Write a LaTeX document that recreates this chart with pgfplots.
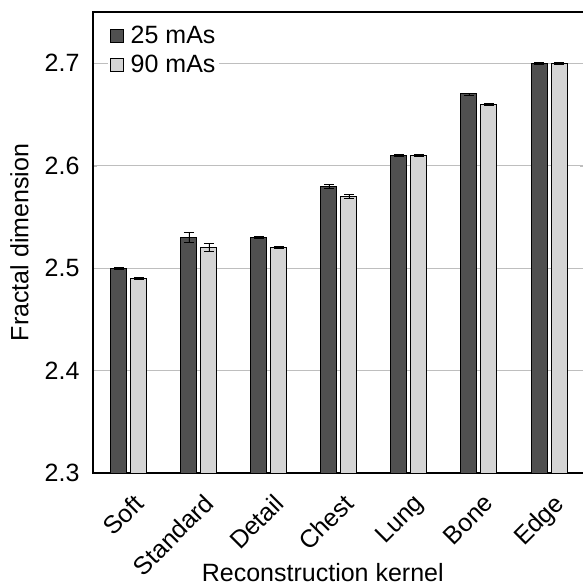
\documentclass[border=0pt]{standalone}
\usepackage{pgfplots}
\pgfplotsset{compat=1.18}
\usepackage{pgfplotstable}
\usepackage{fontspec}
\setmainfont{Liberation Sans}
\definecolor{darkbar}{RGB}{80,80,80}
\definecolor{lightbar}{RGB}{212,212,212}
\definecolor{gridc}{RGB}{190,190,190}
\pgfplotstableread{
x y1 e1 y2 e2
0 2.500 0.001 2.490 0.001
1 2.530 0.005 2.520 0.004
2 2.530 0.001 2.520 0.001
3 2.580 0.002 2.570 0.002
4 2.610 0.001 2.610 0.001
5 2.670 0.001 2.660 0.001
6 2.700 0.001 2.700 0.001
}\datatable
\begin{document}
\begin{tikzpicture}
\path[use as bounding box] (0pt,0pt) rectangle (583pt,587pt);
\begin{axis}[
  at={(93pt,114pt)}, anchor=south west,
  scale only axis, width=491pt, height=461pt,
  ybar=4pt, bar width=16pt,
  xmin=-0.514, xmax=6.5,
  ymin=2.3, ymax=2.75,
  ytick={2.3,2.4,2.5,2.6,2.7},
  yticklabel style={/pgf/number format/fixed,/pgf/number format/precision=1,/pgf/number format/fixed zerofill, xshift=-10pt},
  /pgf/number format/assume math mode=true,
  xtick={0,1,2,3,4,5,6},
  xticklabels={Soft,Standard,Detail,Chest,Lung,Bone,Edge},
  xticklabel style={rotate=45, anchor=north east, xshift=-5pt, yshift=-10pt},
  x tick style={draw=none},
  y tick style={draw=gridc},
  major tick length=4pt,
  ymajorgrids, grid style={gridc, line width=0.8pt},
  axis line style={black, line width=1.2pt},
  tick label style={font=\fontsize{25}{29}\selectfont},
  label style={font=\fontsize{25}{29}\selectfont},
  xlabel={Reconstruction kernel},
  ylabel={Fractal dimension},
  xlabel style={at={(axis description cs:0.468,-0.215)}, anchor=center},
  ylabel style={at={(axis description cs:-0.15,0.5)}, anchor=center},
  legend style={at={(0.03,0.978)}, anchor=north west, draw=none, fill=white,
    font=\fontsize{25}{29}\selectfont, row sep=6pt, inner sep=2pt,
    /tikz/every odd column/.append style={column sep=5pt}},
  legend cell align=left,
  legend image code/.code={\draw[#1, line width=0.8pt] (0pt,-6.5pt) rectangle (13pt,6.5pt);},
  error bars/error bar style={black, line width=0.8pt},
  error bars/error mark options={rotate=90, mark size=5pt, line width=0.8pt, black},
]
\addplot[fill=darkbar, draw=black, line width=1pt,
  error bars/.cd, y dir=both, y explicit]
  table[x=x, y=y1, y error=e1]{\datatable};
\addplot[fill=lightbar, draw=black, line width=1pt,
  error bars/.cd, y dir=both, y explicit]
  table[x=x, y=y2, y error=e2]{\datatable};
\legend{25 mAs, 90 mAs}
\end{axis}
\end{tikzpicture}
\end{document}
